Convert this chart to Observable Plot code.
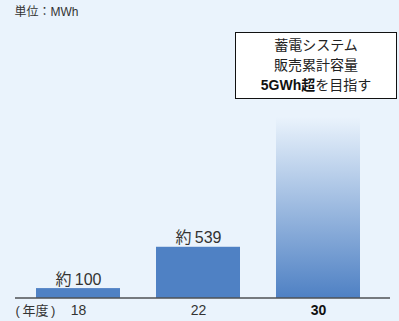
<!DOCTYPE html>
<html>
<head>
<meta charset="utf-8">
<script src="https://cdn.jsdelivr.net/npm/d3@7"></script>
<script src="https://cdn.jsdelivr.net/npm/@observablehq/plot@0.6"></script>
<style>
  html, body { margin: 0; padding: 0; background: #eaf3fc; }
  #wrap { position: relative; width: 399px; height: 321px; overflow: hidden;
          font-family: "Liberation Sans", "Noto Sans CJK JP", sans-serif; }
  #note { position: absolute; left: 235px; top: 32px; width: 162px; height: 67px;
          box-sizing: border-box; border: 1px solid #111; background: #fff;
          text-align: center; font-size: 14px; line-height: 20px; color: #222;
          padding-top: 2px; }
  #note b { font-weight: bold; color: #111; }
</style>
</head>
<body>
<div id="wrap"></div>
<script>
const years = ["18", "22", "30"];
const values = [100, 539, 1920];
const labels = ["約\u2009100", "約\u2009539", ""];
const boldYear = "30";
const unitLabel = "単位：MWh";
const yearLabel = "(\u2009年度\u2009)";
const noteLines = ["蓄電システム", "販売累計容量"];
const noteBold = "5GWh超";
const noteTail = "を目指す";

const data = years.map((y, i) => ({year: y, value: values[i], label: labels[i]}));
const solid = data.filter(d => d.year !== boldYear);
const target = data.filter(d => d.year === boldYear);

const font = '"Liberation Sans", "Noto Sans CJK JP", sans-serif';

const svg = Plot.plot({
  width: 399,
  height: 321,
  marginTop: 109.3,
  marginBottom: 23.5,
  marginLeft: 15,
  marginRight: 9,
  style: {background: "#eaf3fc", fontFamily: font, overflow: "visible"},
  x: {type: "band", domain: years, paddingInner: 0.296, paddingOuter: 0.2015, align: 0.42, axis: null},
  y: {domain: [0, 2000], axis: null},
  marks: [
    Plot.barY(solid, {x: "year", y: "value", fill: "#4f81c4"}),
    Plot.barY(target, {x: "year", y: "value", fill: "url(#grad30)"}),
    Plot.ruleY([0], {stroke: "#000", strokeOpacity: 0.5, strokeWidth: 2}),
    Plot.text(solid, {x: "year", y: "value", text: "label", lineAnchor: "bottom", dy: -4, fontSize: 16, fill: "#333"}),
    Plot.text(years.filter(y => y !== boldYear), {x: d => d, text: d => d, frameAnchor: "bottom", lineAnchor: "middle", dy: 12.5, fontSize: 14, fill: "#333"}),
    Plot.text([boldYear], {x: d => d, text: d => d, frameAnchor: "bottom", lineAnchor: "middle", dy: 12.5, fontSize: 14, fontWeight: "bold", fill: "#111"}),
    Plot.text([yearLabel], {text: d => d, frameAnchor: "bottom-left", textAnchor: "start", lineAnchor: "middle", dy: 12.5, fontSize: 13, fill: "#333"}),
    Plot.text([unitLabel], {text: d => d, frameAnchor: "top-left", textAnchor: "start", lineAnchor: "middle", dx: -1, dy: 12 - 109.3, fontSize: 12, fill: "#333"})
  ]
});

const defs = d3.select(svg).insert("defs", ":first-child");
const g = defs.append("linearGradient").attr("id", "grad30")
  .attr("x1", 0).attr("y1", 0).attr("x2", 0).attr("y2", 1);
g.append("stop").attr("offset", "0%").attr("stop-color", "#4f81c4").attr("stop-opacity", 0);
g.append("stop").attr("offset", "100%").attr("stop-color", "#4f81c4").attr("stop-opacity", 1);

const wrap = document.getElementById("wrap");
wrap.appendChild(svg);

const note = document.createElement("div");
note.id = "note";
note.innerHTML = noteLines.map(l => `<div>${l}</div>`).join("") +
  `<div><b>${noteBold}</b>${noteTail}</div>`;
wrap.appendChild(note);
</script>
</body>
</html>
